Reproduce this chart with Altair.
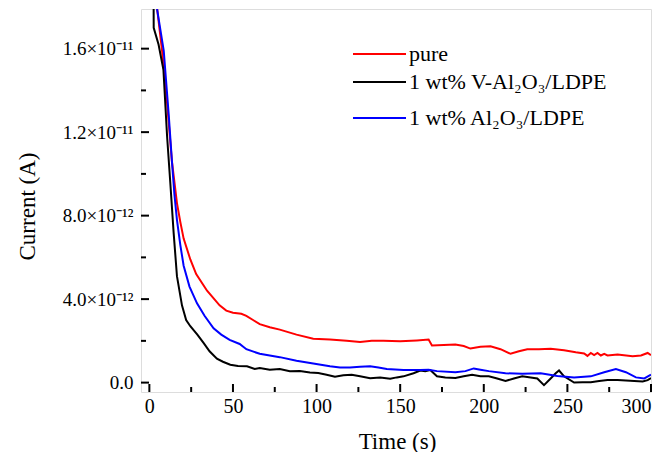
import altair as alt
import pandas as pd

# Time (s) and current (units of 1e-12 A) for each sample
pure_t = [3.8, 7.6, 10.6, 13.5, 16.5, 18.5, 20.5, 24.5, 28, 34.5, 42, 46, 50, 55, 58, 62, 66, 72, 78, 88, 98,
          108, 118, 126, 133, 140, 150, 160, 167, 169, 176, 183, 188, 192, 198, 204, 210, 216, 221, 226, 233,
          240, 248, 255, 260, 262, 264, 266, 268, 270, 272, 274, 280, 289, 294, 298, 300]
pure_v = [18.5, 15.9, 13.4, 10.6, 8.6, 7.7, 6.9, 5.9, 5.2, 4.4, 3.7, 3.45, 3.35, 3.3, 3.2, 3.0, 2.8, 2.65, 2.54,
          2.3, 2.1, 2.06, 2.0, 1.95, 2.0, 2.0, 1.98, 2.02, 2.06, 1.78, 1.8, 1.82, 1.75, 1.63, 1.72, 1.74, 1.6,
          1.38, 1.5, 1.6, 1.6, 1.62, 1.55, 1.45, 1.4, 1.28, 1.42, 1.32, 1.42, 1.3, 1.38, 1.3, 1.35, 1.26, 1.3,
          1.42, 1.32]

v_t = [2.5, 2.6, 5.5, 8.4, 10.6, 12.5, 14.5, 16.5, 19.5, 22, 24.5, 28.7, 32.4, 36, 40.4, 44, 48.4, 53, 58.4,
       63, 66, 72, 78, 84, 90, 96, 101, 106, 111, 116, 121, 126, 132, 138, 144, 148, 152, 158, 162, 165, 168,
       172, 177, 183, 188, 193, 198, 203, 208, 213, 218, 223, 228, 232, 236, 240, 243, 245, 248, 254, 259,
       264, 269, 274, 280, 285, 290, 295, 298, 300]
v_v = [19.0, 17.0, 16.2, 15.0, 11.8, 9.6, 7.2, 5.1, 3.7, 3.0, 2.7, 2.3, 1.9, 1.5, 1.15, 1.0, 0.86, 0.8, 0.78,
       0.65, 0.7, 0.62, 0.65, 0.55, 0.56, 0.48, 0.46, 0.38, 0.28, 0.35, 0.38, 0.3, 0.21, 0.25, 0.18, 0.25, 0.3,
       0.45, 0.58, 0.55, 0.6, 0.3, 0.25, 0.22, 0.3, 0.38, 0.3, 0.3, 0.2, 0.08, 0.2, 0.3, 0.25, 0.2, -0.12, 0.2,
       0.45, 0.58, 0.3, 0.0, 0.02, 0.02, 0.08, 0.13, 0.12, 0.1, 0.08, 0.05, 0.12, 0.22]

al_t = [4.6, 8.6, 11.6, 13.5, 15, 16.5, 18.5, 20.5, 24, 28.5, 33, 38.4, 43, 48, 54, 58, 66, 72, 78, 88, 98,
        108, 114, 120, 126, 132, 137, 142, 152, 162, 167, 172, 183, 189, 194, 198, 203, 213, 223, 234, 244,
        254, 264, 272, 279, 285, 291, 296, 300]
al_v = [17.9, 15.9, 12.8, 10.6, 9.0, 7.8, 6.6, 5.6, 4.6, 3.8, 3.2, 2.6, 2.3, 2.05, 1.85, 1.6, 1.38, 1.3, 1.22,
        1.05, 0.92, 0.78, 0.72, 0.72, 0.76, 0.78, 0.72, 0.65, 0.6, 0.6, 0.62, 0.55, 0.5, 0.55, 0.68, 0.62,
        0.55, 0.45, 0.42, 0.45, 0.32, 0.25, 0.3, 0.5, 0.65, 0.5, 0.25, 0.2, 0.38]

series_names = ["pure", "1 wt% V-Al\u2082O\u2083/LDPE", "1 wt% Al\u2082O\u2083/LDPE"]
series_colors = ["#ff0000", "#000000", "#0000ff"]

y_major = [0, 4, 8, 12, 16]
y_labels = ["0.0", "4.0\u00d710\u207b\u00b9\u00b2", "8.0\u00d710\u207b\u00b9\u00b2",
            "1.2\u00d710\u207b\u00b9\u00b9", "1.6\u00d710\u207b\u00b9\u00b9"]
y_minor = [2, 6, 10, 14]
x_major = [0, 50, 100, 150, 200, 250, 300]
x_minor = [25, 75, 125, 175, 225, 275]

W, H = 510, 383
FONT = "Liberation Serif"

rows = []
for name, ts, vs in zip(series_names, [pure_t, v_t, al_t], [pure_v, v_v, al_v]):
    for i, (t, v) in enumerate(zip(ts, vs)):
        rows.append({"series": name, "t": t, "v": v, "i": i})
df = pd.DataFrame(rows)

xs = alt.Scale(domain=[-5, 300], nice=False, zero=False)
ys = alt.Scale(domain=[-0.45, 17.9], nice=False, zero=False)

label_expr = "[" + ",".join("'" + s + "'" for s in y_labels) + "][round(datum.value/4)]"

lines = alt.Chart(df).mark_line(strokeWidth=2, clip=True).encode(
    x=alt.X("t:Q", scale=xs, title="Time (s)",
            axis=alt.Axis(values=x_major, ticks=False, tickSize=0, domain=False, grid=False,
                          labelFont=FONT, labelFontSize=20, labelColor="black", labelPadding=4,
                          titleFont=FONT, titleFontSize=23, titleFontWeight="normal", titleColor="black",
                          titleX=256, titleY=49, titleBaseline="middle")),
    y=alt.Y("v:Q", scale=ys, title="Current (A)",
            axis=alt.Axis(values=y_major, labelExpr=label_expr, ticks=False, tickSize=0, domain=False,
                          grid=False, labelFont=FONT, labelFontSize=19, labelColor="black", labelPadding=8,
                          titleFont=FONT, titleFontSize=23, titleFontWeight="normal", titleColor="black",
                          titleX=-114, titleY=197, titleBaseline="middle", titleAngle=270)),
    color=alt.Color("series:N", scale=alt.Scale(domain=series_names, range=series_colors), legend=None),
    detail="series:N",
    order="i:Q",
)

ymaj = alt.Chart(pd.DataFrame({"y": y_major})).mark_rule(color="black", strokeWidth=2).encode(
    y=alt.Y("y:Q", scale=ys), x=alt.value(0), x2=alt.value(8))
ymin = alt.Chart(pd.DataFrame({"y": y_minor})).mark_rule(color="black", strokeWidth=2).encode(
    y=alt.Y("y:Q", scale=ys), x=alt.value(0), x2=alt.value(5))
xmaj = alt.Chart(pd.DataFrame({"x": x_major})).mark_rule(color="black", strokeWidth=2).encode(
    x=alt.X("x:Q", scale=xs), y=alt.value(H), y2=alt.value(H - 8))
xmin = alt.Chart(pd.DataFrame({"x": x_minor})).mark_rule(color="black", strokeWidth=2).encode(
    x=alt.X("x:Q", scale=xs), y=alt.value(H), y2=alt.value(H - 5))

legend_layers = []
leg_y = [45, 73, 109]
for name, col, yy in zip(series_names, series_colors, leg_y):
    d = alt.Data(values=[{"label": name}])
    legend_layers.append(alt.Chart(d).mark_rule(color=col, strokeWidth=2).encode(
        x=alt.value(212), x2=alt.value(265), y=alt.value(yy)))
    legend_layers.append(alt.Chart(d).mark_text(align="left", baseline="middle", font=FONT,
                                                fontSize=22, color="black").encode(
        x=alt.value(268), y=alt.value(yy), text="label:N"))

chart = alt.layer(lines, ymaj, ymin, xmaj, xmin, *legend_layers).properties(
    width=W, height=H,
    autosize=alt.AutoSizeParams(type="none"),
    padding={"left": 133, "top": 1, "right": 5, "bottom": 60},
).configure_view(stroke="black", strokeWidth=2.5).configure_axis(
    labelFont=FONT, titleFont=FONT
).configure(background="white")

chart.save("out.html", embed_options={"renderer": "svg", "actions": False})
